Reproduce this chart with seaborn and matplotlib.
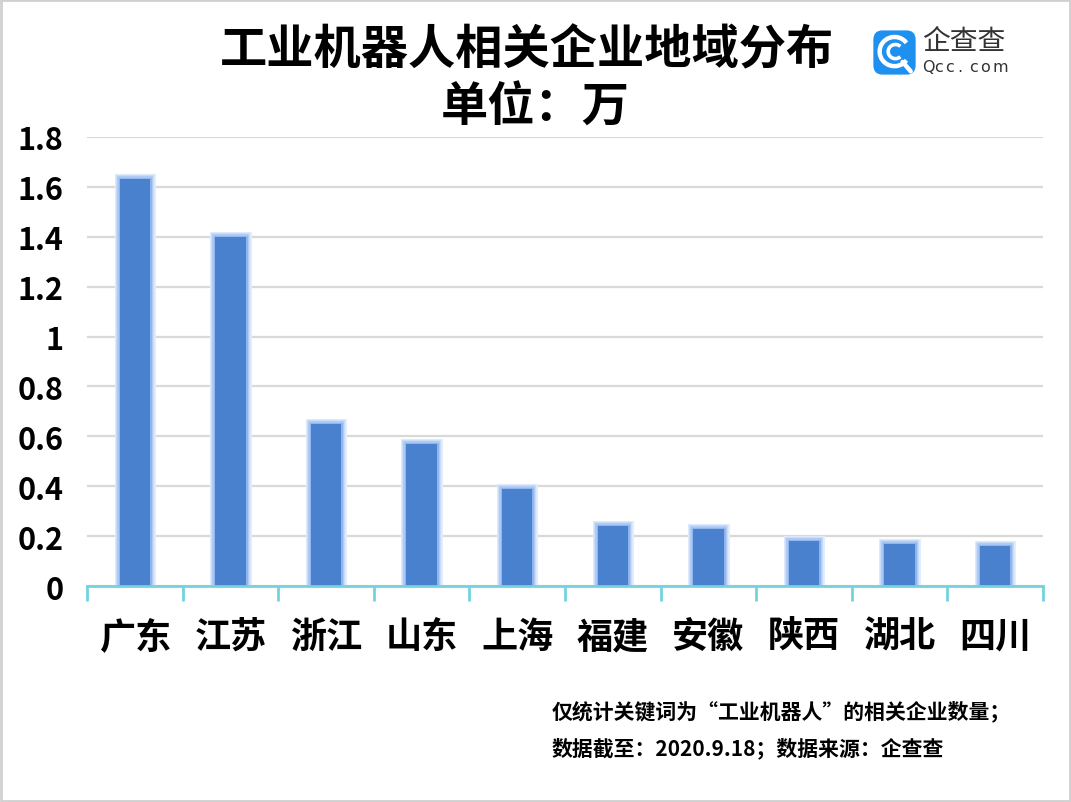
import matplotlib
matplotlib.use("Agg")
import matplotlib.pyplot as plt
import matplotlib.patheffects as pe
from matplotlib.patches import FancyBboxPatch, Rectangle, Arc
import seaborn as sns
import pandas as pd
import numpy as np

# ---- data ----
regions = ["广东", "江苏", "浙江", "山东", "上海", "福建", "安徽", "陕西", "湖北", "四川"]
values = [1.63, 1.40, 0.65, 0.57, 0.39, 0.24, 0.23, 0.18, 0.17, 0.16]
ytick_values = [0, 0.2, 0.4, 0.6, 0.8, 1.0, 1.2, 1.4, 1.6, 1.8]
ytick_labels = ["0", "0.2", "0.4", "0.6", "0.8", "1", "1.2", "1.4", "1.6", "1.8"]
title_text = "工业机器人相关企业地域分布"
unit_text = "单位：万"
note_lines = ["仅统计关键词为“工业机器人”的相关企业数量；",
              "数据截至：2020.9.18；数据来源：企查查"]
logo_cn = "企查查"
logo_en = "Qcc.com"

sns.set_theme(style="white")
plt.rcParams['font.family'] = ['Noto Sans CJK SC', 'DejaVu Sans']

fig = plt.figure(figsize=(10.71, 8.03), dpi=100)
ax = fig.add_axes([87/1071, 1-587/803, (1043-87)/1071, (587-138)/803])

df = pd.DataFrame({"region": regions, "value": values})
sns.barplot(data=df, x="region", y="value", color="#4A81CE", width=0.32,
            saturation=1, ax=ax, zorder=3)
for p in ax.patches:
    p.set_path_effects([
        pe.Stroke(linewidth=8, foreground="#e3edfc", alpha=1.0),
        pe.Stroke(linewidth=6, foreground="#c9dcf8", alpha=1.0),
        pe.Stroke(linewidth=4, foreground="#aac8f3", alpha=1.0),
        pe.Stroke(linewidth=2, foreground="#8db4ec", alpha=1.0),
        pe.Normal(),
    ])
    p.set_edgecolor("none")

ax.set_ylim(0, 1.8)
ax.set_xlim(-0.5, len(regions) - 0.5)
ax.set_yticks(ytick_values)
ax.set_yticklabels(ytick_labels, fontsize=22, fontweight="bold", color="black")
ax.yaxis.grid(True, color="#d9d9d9", linewidth=1.6, zorder=0)
ax.set_axisbelow(True)
ax.tick_params(axis="y", length=0, pad=17)

ax.set_xticks(range(len(regions)))
ax.set_xticklabels(regions, fontsize=26, fontweight="bold", color="black")
ax.set_xticks(np.arange(-0.5, len(regions), 1.0), minor=True)
ax.tick_params(axis="x", which="major", length=0, pad=23)
ax.tick_params(axis="x", which="minor", length=11, width=2, color="#72d3df",
               direction="out", bottom=True)
ax.set_xlabel("")
ax.set_ylabel("")
for s in ["left", "right", "top"]:
    ax.spines[s].set_visible(False)
ax.spines["bottom"].set_color("#72d3df")
ax.spines["bottom"].set_linewidth(2)
ax.spines["bottom"].set_zorder(5)

# titles
fig.text(527/1071, 1-50/803, title_text, ha="center", va="center",
         fontsize=34, fontweight="bold", color="black")
fig.text(535/1071, 1-108/803, unit_text, ha="center", va="center",
         fontsize=34, fontweight="bold", color="black")

# footnotes
fig.text(552/1071, 1-711/803, note_lines[0], ha="left", va="center",
         fontsize=15, fontweight="bold", color="black")
fig.text(552/1071, 1-748/803, note_lines[1], ha="left", va="center",
         fontsize=15, fontweight="bold", color="black")

# logo (drawn with patches)
logo_ax = fig.add_axes([872/1071, 1-77/803, 45/1071, 47/803])
logo_ax.set_xlim(0, 1); logo_ax.set_ylim(0, 1); logo_ax.axis("off")
logo_ax.add_patch(FancyBboxPatch((0.03, 0.03), 0.94, 0.94,
                  boxstyle="round,pad=0,rounding_size=0.2",
                  facecolor="#1E90F0", edgecolor="none"))
logo_ax.add_patch(Arc((0.5, 0.52), 0.66, 0.62, theta1=35, theta2=325,
                      edgecolor="white", linewidth=3.2))
logo_ax.add_patch(Arc((0.52, 0.52), 0.32, 0.30, theta1=45, theta2=315,
                      edgecolor="white", linewidth=2.6))
logo_ax.plot([0.68, 0.86], [0.30, 0.10], color="white", linewidth=3.2,
             solid_capstyle="round")
fig.text(922/1071, 1-42/803, logo_cn, ha="left", va="center",
         fontsize=20, color="#333333")
for i, ch in enumerate(logo_en):
    fig.text((922 + i * 11.7)/1071, 1-67/803, ch, ha="left", va="center",
             fontsize=11.5, color="#333333", family="DejaVu Sans")

# figure border
fig.patches.append(Rectangle((0.001, 0.001), 0.998, 0.998, transform=fig.transFigure,
                             fill=False, edgecolor="#d0d0d0", linewidth=2))

fig.savefig("out.png", dpi=100)
